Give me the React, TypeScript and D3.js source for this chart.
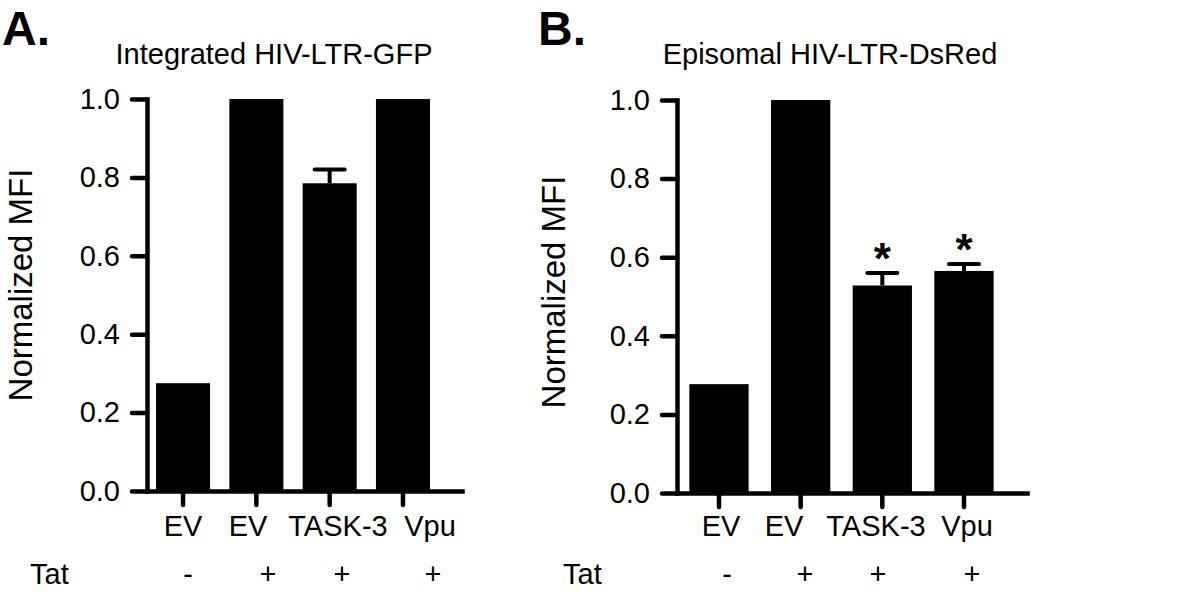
import React, { useEffect, useRef } from "react";
import * as d3 from "d3";

const categories = ["EV", "EV", "TASK-3", "Vpu"];
const tatLabels = ["-", "+", "+", "+"];
const yTicks = [0, 0.2, 0.4, 0.6, 0.8, 1.0];

const integratedValues = [0.275, 1.0, 0.785, 1.0];
const integratedErrors = [0, 0, 0.035, 0];
const integratedStars = [false, false, false, false];

const episomalValues = [0.277, 1.0, 0.528, 0.565];
const episomalErrors = [0, 0, 0.032, 0.018];
const episomalStars = [false, false, true, true];

const FONT = "'Liberation Sans', Arial, Helvetica, sans-serif";

const App = () => {
  const svgRef = useRef(null);

  useEffect(() => {
    const svg = d3.select(svgRef.current);
    svg.selectAll("*").remove();

    // layout of each panel (the labels under the axis are hand-placed in the original figure)
    const panels = [
      {
        letter: "A.", letterX: 2, title: "Integrated HIV-LTR-GFP", titleX: 274,
        axisX: 147, xEnd: 462, y0: 491, y1: 99, pad: 0.263, align: 0.22,
        ylabX: 32, ylabY: 285, tatX: 30,
        labelPos: [183, 248, 338, 430], tatPos: [188, 268, 342, 433],
        values: integratedValues, errors: integratedErrors, stars: integratedStars,
      },
      {
        letter: "B.", letterX: 538, title: "Episomal HIV-LTR-DsRed", titleX: 830,
        axisX: 677, xEnd: 1027, y0: 493, y1: 100, pad: 0.274, align: 0.27,
        ylabX: 565, ylabY: 292, tatX: 563,
        labelPos: [721, 784, 876, 967], tatPos: [727, 805, 878, 972],
        values: episomalValues, errors: episomalErrors, stars: episomalStars,
      },
    ];

    panels.forEach((p) => {
      const g = svg.append("g");
      const idx = categories.map((_, i) => i);

      const x = d3.scaleBand().domain(idx).range([p.axisX, p.xEnd]).paddingInner(p.pad).paddingOuter(0.28).align(p.align);
      const y = d3.scaleLinear().domain([0, 1]).range([p.y0, p.y1]);
      const labelX = d3.scaleOrdinal().domain(idx).range(p.labelPos);
      const tatX = d3.scaleOrdinal().domain(idx).range(p.tatPos);

      // panel letter + title
      g.append("text").attr("x", p.letterX).attr("y", 45).attr("font-family", FONT)
        .attr("font-size", 48).attr("font-weight", "bold").text(p.letter);
      g.append("text").attr("x", p.titleX).attr("y", 64).attr("text-anchor", "middle")
        .attr("font-family", FONT).attr("font-size", 29).text(p.title);

      // bars
      g.selectAll(".bar").data(p.values).enter().append("rect")
        .attr("x", (d, i) => x(i)).attr("y", (d) => y(d))
        .attr("width", x.bandwidth()).attr("height", (d) => y(0) - y(d))
        .attr("fill", "#000");

      // error bars
      const errData = p.values.map((v, i) => ({ i, v, e: p.errors[i] })).filter((d) => d.e > 0);
      const cx = (i) => x(i) + x.bandwidth() / 2;
      const eg = g.selectAll(".err").data(errData).enter().append("g")
        .attr("stroke", "#000").attr("stroke-width", 4);
      eg.append("line").attr("x1", (d) => cx(d.i)).attr("x2", (d) => cx(d.i))
        .attr("y1", (d) => y(d.v)).attr("y2", (d) => y(d.v + d.e));
      eg.append("line").attr("x1", (d) => cx(d.i) - 15).attr("x2", (d) => cx(d.i) + 15)
        .attr("y1", (d) => y(d.v + d.e)).attr("y2", (d) => y(d.v + d.e)).attr("stroke-linecap", "round");

      // significance stars
      g.selectAll(".star").data(errData.filter((d) => p.stars[d.i])).enter().append("text")
        .attr("x", (d) => cx(d.i)).attr("y", (d) => y(d.v + d.e) + 1)
        .attr("text-anchor", "middle").attr("font-family", FONT).attr("font-weight", "bold")
        .attr("font-size", 44).text("*");

      // y axis
      const yAxis = g.append("g").attr("transform", `translate(${p.axisX},0)`)
        .call(d3.axisLeft(y).tickValues(yTicks).tickFormat(d3.format(".1f")).tickSize(15).tickSizeOuter(0).tickPadding(12));
      // x axis (labels drawn separately)
      const xAxis = g.append("g").attr("transform", `translate(0,${p.y0})`)
        .call(d3.axisBottom(x).tickFormat(() => "").tickSize(14).tickSizeOuter(0));

      [yAxis, xAxis].forEach((ax) => {
        ax.select(".domain").attr("stroke", "#000").attr("stroke-width", 4.5).attr("stroke-linecap", "square");
        ax.selectAll(".tick line").attr("stroke", "#000").attr("stroke-width", 4.5).attr("stroke-linecap", "round");
        ax.selectAll(".tick text").attr("fill", "#000").attr("font-family", FONT).attr("font-size", 29);
      });

      // category labels
      g.selectAll(".cat").data(categories).enter().append("text")
        .attr("x", (d, i) => labelX(i)).attr("y", 536).attr("text-anchor", "middle")
        .attr("font-family", FONT).attr("font-size", 29).text((d) => d);

      // y label
      g.append("text").attr("transform", `translate(${p.ylabX},${p.ylabY}) rotate(-90)`)
        .attr("text-anchor", "middle").attr("font-family", FONT).attr("font-size", 33).text("Normalized MFI");

      // Tat row
      g.append("text").attr("x", p.tatX).attr("y", 584).attr("font-family", FONT).attr("font-size", 29).text("Tat");
      g.selectAll(".tat").data(tatLabels).enter().append("text")
        .attr("x", (d, i) => tatX(i)).attr("y", 584).attr("text-anchor", "middle")
        .attr("font-family", FONT).attr("font-size", 29).text((d) => d);
    });
  }, []);

  return (
    <svg ref={svgRef} width={1200} height={592} style={{ position: "absolute", left: 0, top: 0, background: "#fff" }}></svg>
  );
};

export default App;
